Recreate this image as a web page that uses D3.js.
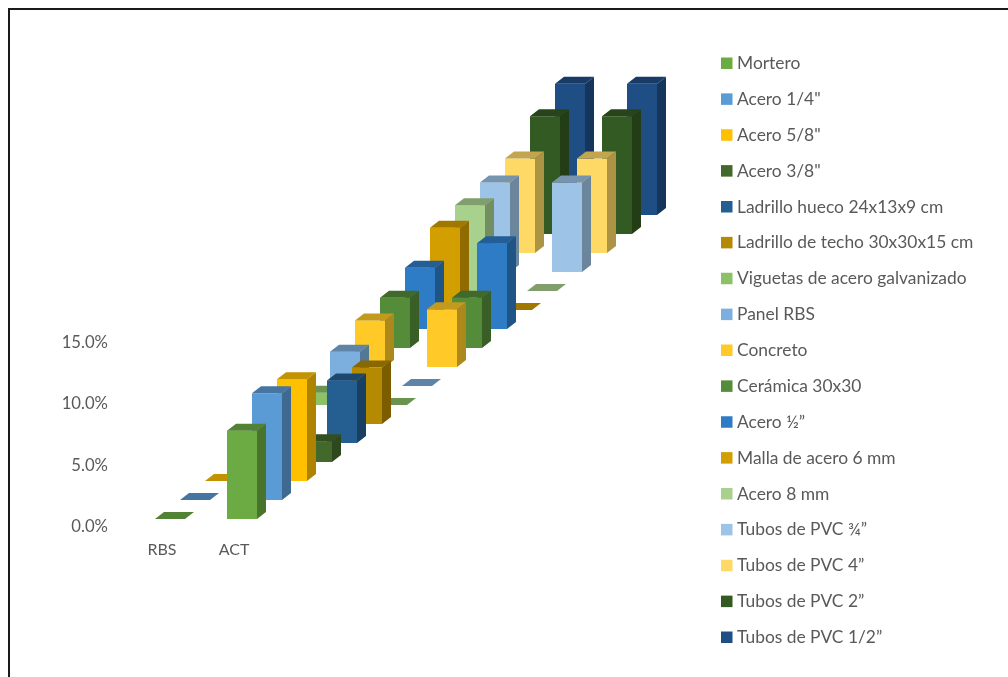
<!DOCTYPE html>
<html><head><meta charset="utf-8">
<style>html,body{margin:0;padding:0;background:#fff;overflow:hidden}svg{display:block;filter:blur(0.5px)}text{font-family:Lato,"Open Sans",sans-serif;fill:#595959}</style>
<script src="https://cdn.jsdelivr.net/npm/d3@7"></script></head><body>
<svg id="c" width="1008" height="677"></svg>
<script>
const categories = ["RBS","ACT"];
const seriesNames = ["Mortero","Acero 1/4\"","Acero 5/8\"","Acero 3/8\"","Ladrillo hueco 24x13x9 cm","Ladrillo de techo 30x30x15 cm","Viguetas de acero galvanizado","Panel RBS","Concreto","Cerámica 30x30","Acero ½”","Malla de acero 6 mm","Acero 8 mm","Tubos de PVC ¾”","Tubos de PVC 4”","Tubos de PVC 2”","Tubos de PVC 1/2”"];
const rbsValues = [0,0,0,null,null,null,1.0,2.8,3.8,4.1,5.0,6.7,7.0,7.3,7.7,9.6,10.7];
const actValues = [7.2,8.7,8.3,1.7,5.1,4.6,0,0,4.7,4.1,7.0,0,0,7.3,7.7,9.6,10.7];
const colors = ["#6cab44","#5b9bd5","#ffc000","#43682b","#255e91","#b58900","#8cc168","#7cafdd","#ffca28","#548c3a","#2e7cc6","#d39e00","#a9d18e","#9dc3e6","#ffd966","#335a22","#1f4e85"];
const yTicks = [0,5,10,15];

const svg = d3.select("#c");
svg.append("path").attr("d","M9,677V9H1008").attr("fill","none").attr("stroke","#1a1a1a").attr("stroke-width",2);

const y = d3.scaleLinear().domain([0,15]).range([526,342]);
const x = d3.scalePoint().domain(categories).range([155,227]);
const depth = d3.scaleLinear().domain([0,16]);
const dx = depth.copy().range([0,400]);
const dy = depth.copy().range([-7,-311]);
const barW = 30, sideX = 9, sideY = -7;

const axis = d3.axisLeft(y).tickValues(yTicks).tickSize(0).tickPadding(0).tickFormat(d=>d3.format(".1f")(d)+"%");
const ag = svg.append("g").attr("transform","translate(108,0)").call(axis);
ag.select(".domain").remove();
ag.selectAll("text").style("font-size","16.7px").style("font-family",null);

svg.append("g").selectAll("text").data(categories).join("text")
  .attr("x",d=>x(d)+barW/2-8).attr("y",549).attr("dy",".35em")
  .attr("text-anchor","middle").style("font-size","16px").text(d=>d);

const shade=(c,k)=>{const r=d3.rgb(c);return d3.rgb(r.r*k,r.g*k,r.b*k).formatHex();};
const bars=[];
d3.range(seriesNames.length-1,-1,-1).forEach(i=>{
  categories.forEach(cat=>{
    bars.push({i,cat,v:(cat==="RBS"?rbsValues:actValues)[i]});
  });
});
const g = svg.append("g");
bars.filter(b=>b.v!==null).forEach(b=>{
  const x0=x(b.cat)+dx(b.i), base=y(0)+dy(b.i), top=y(b.v)+dy(b.i), c=colors[b.i];
  const pt=(a)=>a.map(p=>p.join(",")).join(" ");
  const gb=g.append("g");
  if(b.v>0){
    gb.append("polygon").attr("points",pt([[x0+barW,base],[x0+barW+sideX,base+sideY],[x0+barW+sideX,top+sideY],[x0+barW,top]])).attr("fill",shade(c,.68));
    gb.append("rect").attr("x",x0).attr("y",top).attr("width",barW).attr("height",base-top).attr("fill",c);
  }
  gb.append("polygon").attr("points",pt([[x0,top],[x0+barW,top],[x0+barW+sideX,top+sideY],[x0+sideX,top+sideY]])).attr("fill",shade(c,.76));
});

const lg = d3.scaleLinear().domain([0,16]).range([63,637]);
const leg = svg.append("g").selectAll("g").data(seriesNames).join("g").attr("transform",(d,i)=>`translate(0,${lg(i)})`);
leg.append("rect").attr("x",721).attr("y",-5.5).attr("width",11.5).attr("height",11.5).attr("fill",(d,i)=>colors[i]);
leg.append("text").attr("x",737).attr("dy",".35em").style("font-size","17.4px").text(d=>d);
</script></body></html>
